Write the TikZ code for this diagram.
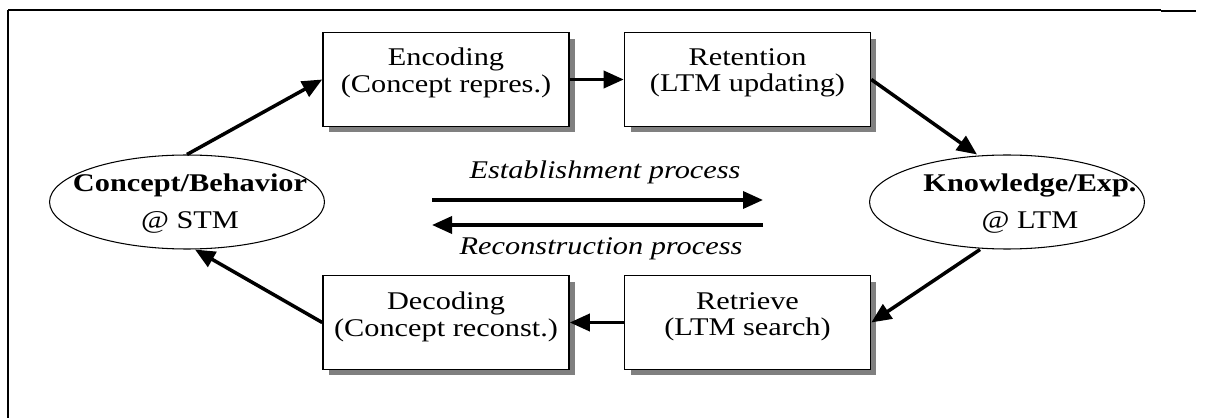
\documentclass[tikz,border=0pt]{standalone}
\usepackage{fontspec}
\setmainfont[FakeStretch=1.19]{Liberation Serif}
\usetikzlibrary{arrows.meta,shapes.geometric,shadows}
\begin{document}
\begin{tikzpicture}[x=0.02cm, y=-0.02cm,
  font=\fontsize{14.5}{15}\selectfont,
  box/.style={draw, line width=0.9pt, fill=white, minimum width=4.92cm, minimum height=1.88cm,
    drop shadow={shadow xshift=0.12cm, shadow yshift=-0.12cm, fill=black!50, opacity=1}},
  oval/.style={ellipse, draw, line width=0.6pt, minimum width=5.5cm, minimum height=1.88cm, inner sep=0pt},
  txt/.style={align=center, inner sep=0pt},
  arr/.style={line width=2pt, -{Triangle[length=0.4cm, width=0.34cm]}}]
  \useasboundingbox (0,0) rectangle (1206,418);
  % frame
  \draw[line width=1.1pt] (8,418) -- (8,10);
  \draw[line width=0.6pt] (8,10) -- (1161,10);
  \draw[line width=1.1pt] (8,10) -- (25,10);
  \draw[line width=1.1pt] (1161,11) -- (1196,11);
  % boxes
  \node[box] (enc) at (446,79.5){};
  \node[txt] (encT) at (446,73){Encoding\\(Concept repres.)};
  \node[box] (ret) at (747.5,79.5){};
  \node[txt] (retT) at (747.5,73){Retention\\(LTM updating)};
  \node[box] (dec) at (446,322.5){};
  \node[txt] (decT) at (446,317){Decoding\\(Concept reconst.)};
  \node[box] (rtv) at (747.5,322.5){};
  \node[txt] (rtvT) at (747.5,317){Retrieve\\(LTM search)};
  % memories
  \node[oval] (con) at (187,202){};
  \node[txt] (conT) at (190,204){\textbf{Concept/Behavior}\\[6pt]@ STM};
  \node[oval] (kno) at (1007,202){};
  \node[txt] (knoT) at (1030,204){\textbf{Knowledge/Exp.}\\[6pt]@ LTM};
  % cycle
  \draw[arr] (con.north) -- (enc.west);
  \draw[arr] (enc.east) -- (ret.west);
  \draw[arr] (ret.east) -- ([xshift=-0.6cm]kno.north);
  \draw[arr] ([xshift=-0.54cm]kno.south) -- (rtv.east);
  \draw[arr] (rtv.west) -- (dec.east);
  \draw[arr] (dec.west) -- ([xshift=0.16cm]con.south);
  % processes
  \coordinate (estA) at (432,200);
  \coordinate (estB) at (763,200);
  \coordinate (recA) at (763,225);
  \coordinate (recB) at (432,225);
  \node[txt] (estT) at (605,172.5){\textit{Establishment process}};
  \node[txt] (recT) at (601,249){\textit{Reconstruction process}};
  \draw[arr] (estA) -- (estB);
  \draw[arr] (recA) -- (recB);
\end{tikzpicture}
\end{document}
